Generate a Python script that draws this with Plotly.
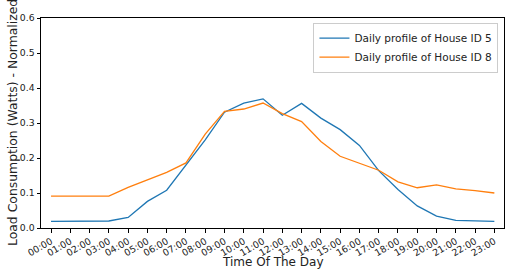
import plotly.graph_objects as go

hours = [f"{h:02d}:00" for h in range(24)]
house5 = [0.019, 0.020, 0.020, 0.020, 0.030, 0.076, 0.108, 0.180, 0.252, 0.331,
          0.357, 0.369, 0.322, 0.356, 0.314, 0.281, 0.236, 0.164, 0.110, 0.063,
          0.034, 0.022, 0.021, 0.019]
house8 = [0.091, 0.091, 0.090, 0.091, 0.116, 0.138, 0.159, 0.186, 0.268, 0.333,
          0.340, 0.357, 0.327, 0.304, 0.247, 0.205, 0.185, 0.165, 0.132, 0.115,
          0.123, 0.112, 0.107, 0.100]
y_ticks = [0.0, 0.1, 0.2, 0.3, 0.4, 0.5, 0.6]

font = "DejaVu Sans"
fig = go.Figure()
fig.add_trace(go.Scatter(x=list(range(24)), y=house5, mode="lines",
                         name="Daily profile of House ID 5",
                         line=dict(color="#1f77b4", width=1.3)))
fig.add_trace(go.Scatter(x=list(range(24)), y=house8, mode="lines",
                         name="Daily profile of House ID 8",
                         line=dict(color="#ff7f0e", width=1.3)))

fig.update_layout(
    width=505, height=272,
    margin=dict(l=41, r=1, t=18, b=44, autoexpand=False),
    paper_bgcolor="white", plot_bgcolor="white",
    font=dict(family=font, size=9, color="#222"),
    showlegend=True,
    legend=dict(x=0.988, y=0.978, xanchor="right", yanchor="top",
                bgcolor="white", bordercolor="#cccccc", borderwidth=1,
                font=dict(size=10.5, family=font, color="#222"),
                tracegroupgap=0, itemwidth=30),
    xaxis=dict(range=[-0.52, 23.5], tickmode="array", automargin=False,
               tickvals=list(range(24)), ticktext=hours, tickangle=-30,
               showgrid=False, zeroline=False, showline=True, mirror=True,
               linecolor="black", linewidth=1, ticks="outside", ticklen=3.5,
               tickcolor="black", tickfont=dict(size=9.3)),
    yaxis=dict(range=[0, 0.6], tickmode="array", tickvals=y_ticks, automargin=False,
               ticktext=[f"{v:.1f}" for v in y_ticks],
               showgrid=False, zeroline=False, showline=True, mirror=True,
               linecolor="black", linewidth=1, ticks="outside", ticklen=3.5,
               tickcolor="black", tickfont=dict(size=9.3)),
    annotations=[
        dict(text="Time Of The Day", xref="paper", yref="paper", x=0.5, y=0,
             yshift=-34, xanchor="center", yanchor="middle", showarrow=False,
             font=dict(size=12, family=font, color="#222")),
        dict(text="Load Consumption (Watts) - Normalized", xref="paper", yref="paper",
             x=0, xshift=-29, y=0.5, xanchor="center", yanchor="middle",
             textangle=-90, showarrow=False,
             font=dict(size=12.4, family=font, color="#222")),
    ],
)

fig.write_html("out.html", config={"displayModeBar": False},
               post_script="document.body.style.margin='0px';")
